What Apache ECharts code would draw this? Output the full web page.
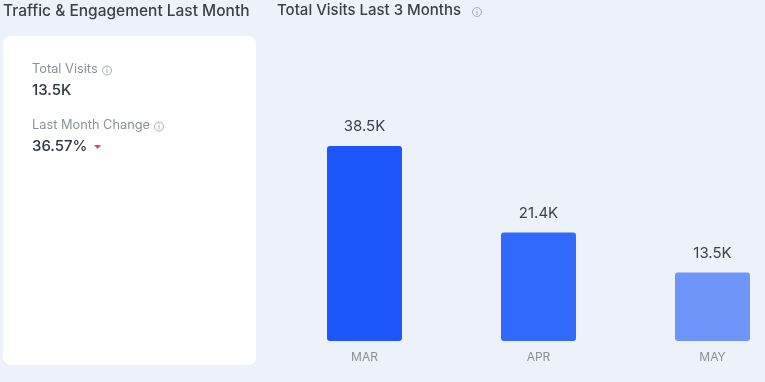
<!DOCTYPE html>
<html><head><meta charset="utf-8">
<script src="https://cdn.jsdelivr.net/npm/echarts@6/dist/echarts.min.js"></script>
<style>html,body{margin:0;padding:0;background:#edf1f9;}#c{width:765px;height:382px;}</style>
</head><body><div id="c"></div>
<script>
const categories = ['MAR', 'APR', 'MAY'];
const visitsK = [38.5, 21.4, 13.5];
const barColors = ['#1d56fb', '#3169fb', '#6e95f9'];
const totalVisitsText = '13.5K';
const lastMonthChangeText = '36.57%';

const chart = echarts.init(document.getElementById('c'));
const F = 'Inter, "Noto Sans", sans-serif';
function info(x, y) {
  return [
    {type:'circle', shape:{cx:x, cy:y, r:4.5}, style:{fill:'none', stroke:'#a8adb6', lineWidth:1}},
    {type:'text', x:x, y:y+0.5, style:{text:'i', font:'bold 7px '+F, fill:'#a8adb6', align:'center', verticalAlign:'middle'}}
  ];
}
chart.setOption({
  backgroundColor: '#edf1f9',
  animation: false,
  grid: {left: 277.5, width: 522, top: 37, height: 304, outerBoundsMode: 'none', containLabel: false},
  xAxis: {type:'category', data: categories, axisLine:{show:false}, axisTick:{show:false},
    axisLabel:{color:'#8a8f99', fontSize:12, fontFamily:F, margin:10}},
  yAxis: {type:'value', min:0, max:60, show:false, splitLine:{show:false}},
  series: [{
    type:'bar', barWidth:75,
    data: visitsK.map((v,i)=>({value:v, itemStyle:{color:barColors[i], borderRadius:[3,3,3,3]}})),
    label:{show:true, position:'top', distance:12, color:'#3a3f4b', fontSize:15, fontFamily:F,
      formatter: p => p.value + 'K'}
  }],
  graphic: [
    {type:'text', left:3, top:3, style:{text:'Traffic & Engagement Last Month', font:'500 15.5px '+F, fill:'#3a3f4b'}},
    {type:'text', left:277, top:3, style:{text:'Total Visits Last 3 Months', font:'500 15px '+F, fill:'#3a3f4b'}},
    ...info(477, 12),
    {type:'rect', shape:{x:3, y:36, width:253, height:329, r:8}, style:{fill:'#ffffff'}},
    {type:'text', left:32, top:63, style:{text:'Total Visits', font:'12.8px '+F, fill:'#8a8f99'}},
    ...info(107, 70.5),
    {type:'text', left:32, top:83, style:{text:totalVisitsText, font:'500 15px '+F, fill:'#2f3542'}},
    {type:'text', left:32, top:119, style:{text:'Last Month Change', font:'12.8px '+F, fill:'#8a8f99'}},
    ...info(159, 126.5),
    {type:'text', left:32, top:139, style:{text:lastMonthChangeText, font:'500 15px '+F, fill:'#2f3542'}},
    {type:'polygon', shape:{points:[[94,145],[101,145],[97.5,149]]}, style:{fill:'#e5484d'}}
  ]
});
</script></body></html>
